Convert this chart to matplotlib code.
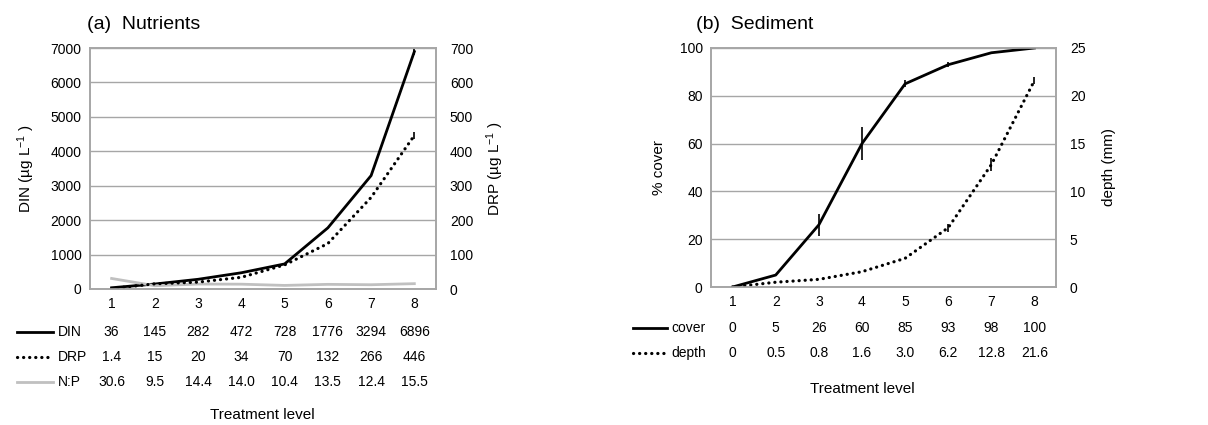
import matplotlib.pyplot as plt
import matplotlib.transforms as mtrans
from matplotlib.lines import Line2D

plt.rcParams['font.family'] = ['Liberation Sans', 'DejaVu Sans']
plt.rcParams['mathtext.fontset'] = 'custom'
plt.rcParams['mathtext.rm'] = 'Liberation Sans'
plt.rcParams['mathtext.default'] = 'rm'

levels = [1, 2, 3, 4, 5, 6, 7, 8]

# (a) nutrients
din = [36, 145, 282, 472, 728, 1776, 3294, 6896]
din_err = [0, 0, 0, 0, 0, 0, 0, 110]
drp = [1.4, 15, 20, 34, 70, 132, 266, 446]
drp_err = [0, 0, 0, 0, 0, 0, 0, 9]
np_ratio = [30.6, 9.5, 14.4, 14.0, 10.4, 13.5, 12.4, 15.5]

din_lbl = ['36', '145', '282', '472', '728', '1776', '3294', '6896']
drp_lbl = ['1.4', '15', '20', '34', '70', '132', '266', '446']
np_lbl = ['30.6', '9.5', '14.4', '14.0', '10.4', '13.5', '12.4', '15.5']

# (b) sediment
cover = [0, 5, 26, 60, 85, 93, 98, 100]
cover_err = [0, 0, 4.7, 7, 1.5, 1, 0, 0]
depth = [0, 0.5, 0.8, 1.6, 3.0, 6.2, 12.8, 21.6]
depth_err = [0, 0, 0, 0, 0, 0.4, 0.7, 0.4]

cover_lbl = ['0', '5', '26', '60', '85', '93', '98', '100']
depth_lbl = ['0', '0.5', '0.8', '1.6', '3.0', '6.2', '12.8', '21.6']

grid_c = '#a6a6a6'
npc = '#c0c0c0'
solid = dict(color='black', lw=2)
dotted = dict(color='black', lw=2.3, ls=(0, (0.05, 1.85)), dash_capstyle='round')
grey = dict(color=npc, lw=2)

fig = plt.figure(figsize=(12.08, 4.25), dpi=100)


def style_axes(ax, ax2):
    ax.set_xlim(0.5, 8.5)
    ax.set_xticks(levels)
    ax.tick_params(axis='both', length=0, labelsize=10, pad=6)
    ax2.tick_params(axis='y', length=0, labelsize=10, pad=10)
    ax.yaxis.grid(True, color=grid_c, lw=1)
    ax.set_axisbelow(True)
    for a in (ax, ax2):
        for s in a.spines.values():
            s.set_color(grid_c)
            s.set_linewidth(1.2)


def table_rows(ax, rows, x0, x1, xt):
    tr = mtrans.blended_transform_factory(ax.transData, fig.transFigure)
    for lbls, name, st, yf in rows:
        for x, t in zip(levels, lbls):
            ax.text(x, yf, t, transform=tr, ha='center', va='center', fontsize=10)
        fig.text(xt, yf, name, ha='left', va='center', fontsize=10)
        fig.add_artist(Line2D([x0, x1], [yf, yf], transform=fig.transFigure, **st))


# ---- (a) nutrients
ax1 = fig.add_axes([0.0745, 0.32, 0.2864, 0.567])
ax1b = ax1.twinx()
ax1.plot(levels, din, zorder=3, **solid)
ax1.errorbar(levels, din, yerr=din_err, fmt='none', ecolor='black', elinewidth=1.2)
ax1b.plot(levels, np_ratio, **grey)
ax1b.plot(levels, drp, **dotted)
ax1b.errorbar(levels, drp, yerr=drp_err, fmt='none', ecolor='black', elinewidth=1.2)
ax1.set_ylim(0, 7000)
ax1b.set_ylim(0, 700)
ax1.set_yticks(range(0, 7001, 1000))
ax1b.set_yticks(range(0, 701, 100))
style_axes(ax1, ax1b)
ax1.set_ylabel('DIN (µg L$^{-1}$ )', fontsize=11, labelpad=10)
ax1b.set_ylabel('DRP (µg L$^{-1}$ )', fontsize=11, labelpad=8)
ax1.set_title('(a)  Nutrients', fontsize=14, loc='left', x=-0.01, pad=14)

table_rows(ax1, [(din_lbl, 'DIN', solid, 0.218),
                 (drp_lbl, 'DRP', dotted, 0.159),
                 (np_lbl, 'N:P', grey, 0.101)], 0.014, 0.044, 0.048)
fig.text(0.2175, 0.024, 'Treatment level', ha='center', va='center', fontsize=11)

# ---- (b) sediment
ax2 = fig.add_axes([0.5886, 0.3247, 0.2856, 0.5624])
ax2b = ax2.twinx()
ax2.plot(levels, cover, zorder=3, **solid)
ax2.errorbar(levels, cover, yerr=cover_err, fmt='none', ecolor='black', elinewidth=1.2)
ax2b.plot(levels, depth, **dotted)
ax2b.errorbar(levels, depth, yerr=depth_err, fmt='none', ecolor='black', elinewidth=1.2)
ax2.set_ylim(0, 100)
ax2b.set_ylim(0, 25)
ax2.set_yticks(range(0, 101, 20))
ax2b.set_yticks(range(0, 26, 5))
style_axes(ax2, ax2b)
ax2.set_ylabel('% cover', fontsize=11, labelpad=10)
ax2b.set_ylabel('depth (mm)', fontsize=11, labelpad=12)
ax2.set_title('(b)  Sediment', fontsize=14, loc='left', x=-0.045, pad=14)

table_rows(ax2, [(cover_lbl, 'cover', solid, 0.228),
                 (depth_lbl, 'depth', dotted, 0.169)], 0.524, 0.552, 0.556)
fig.text(0.714, 0.085, 'Treatment level', ha='center', va='center', fontsize=11)

fig.savefig('out.png', dpi=100)
